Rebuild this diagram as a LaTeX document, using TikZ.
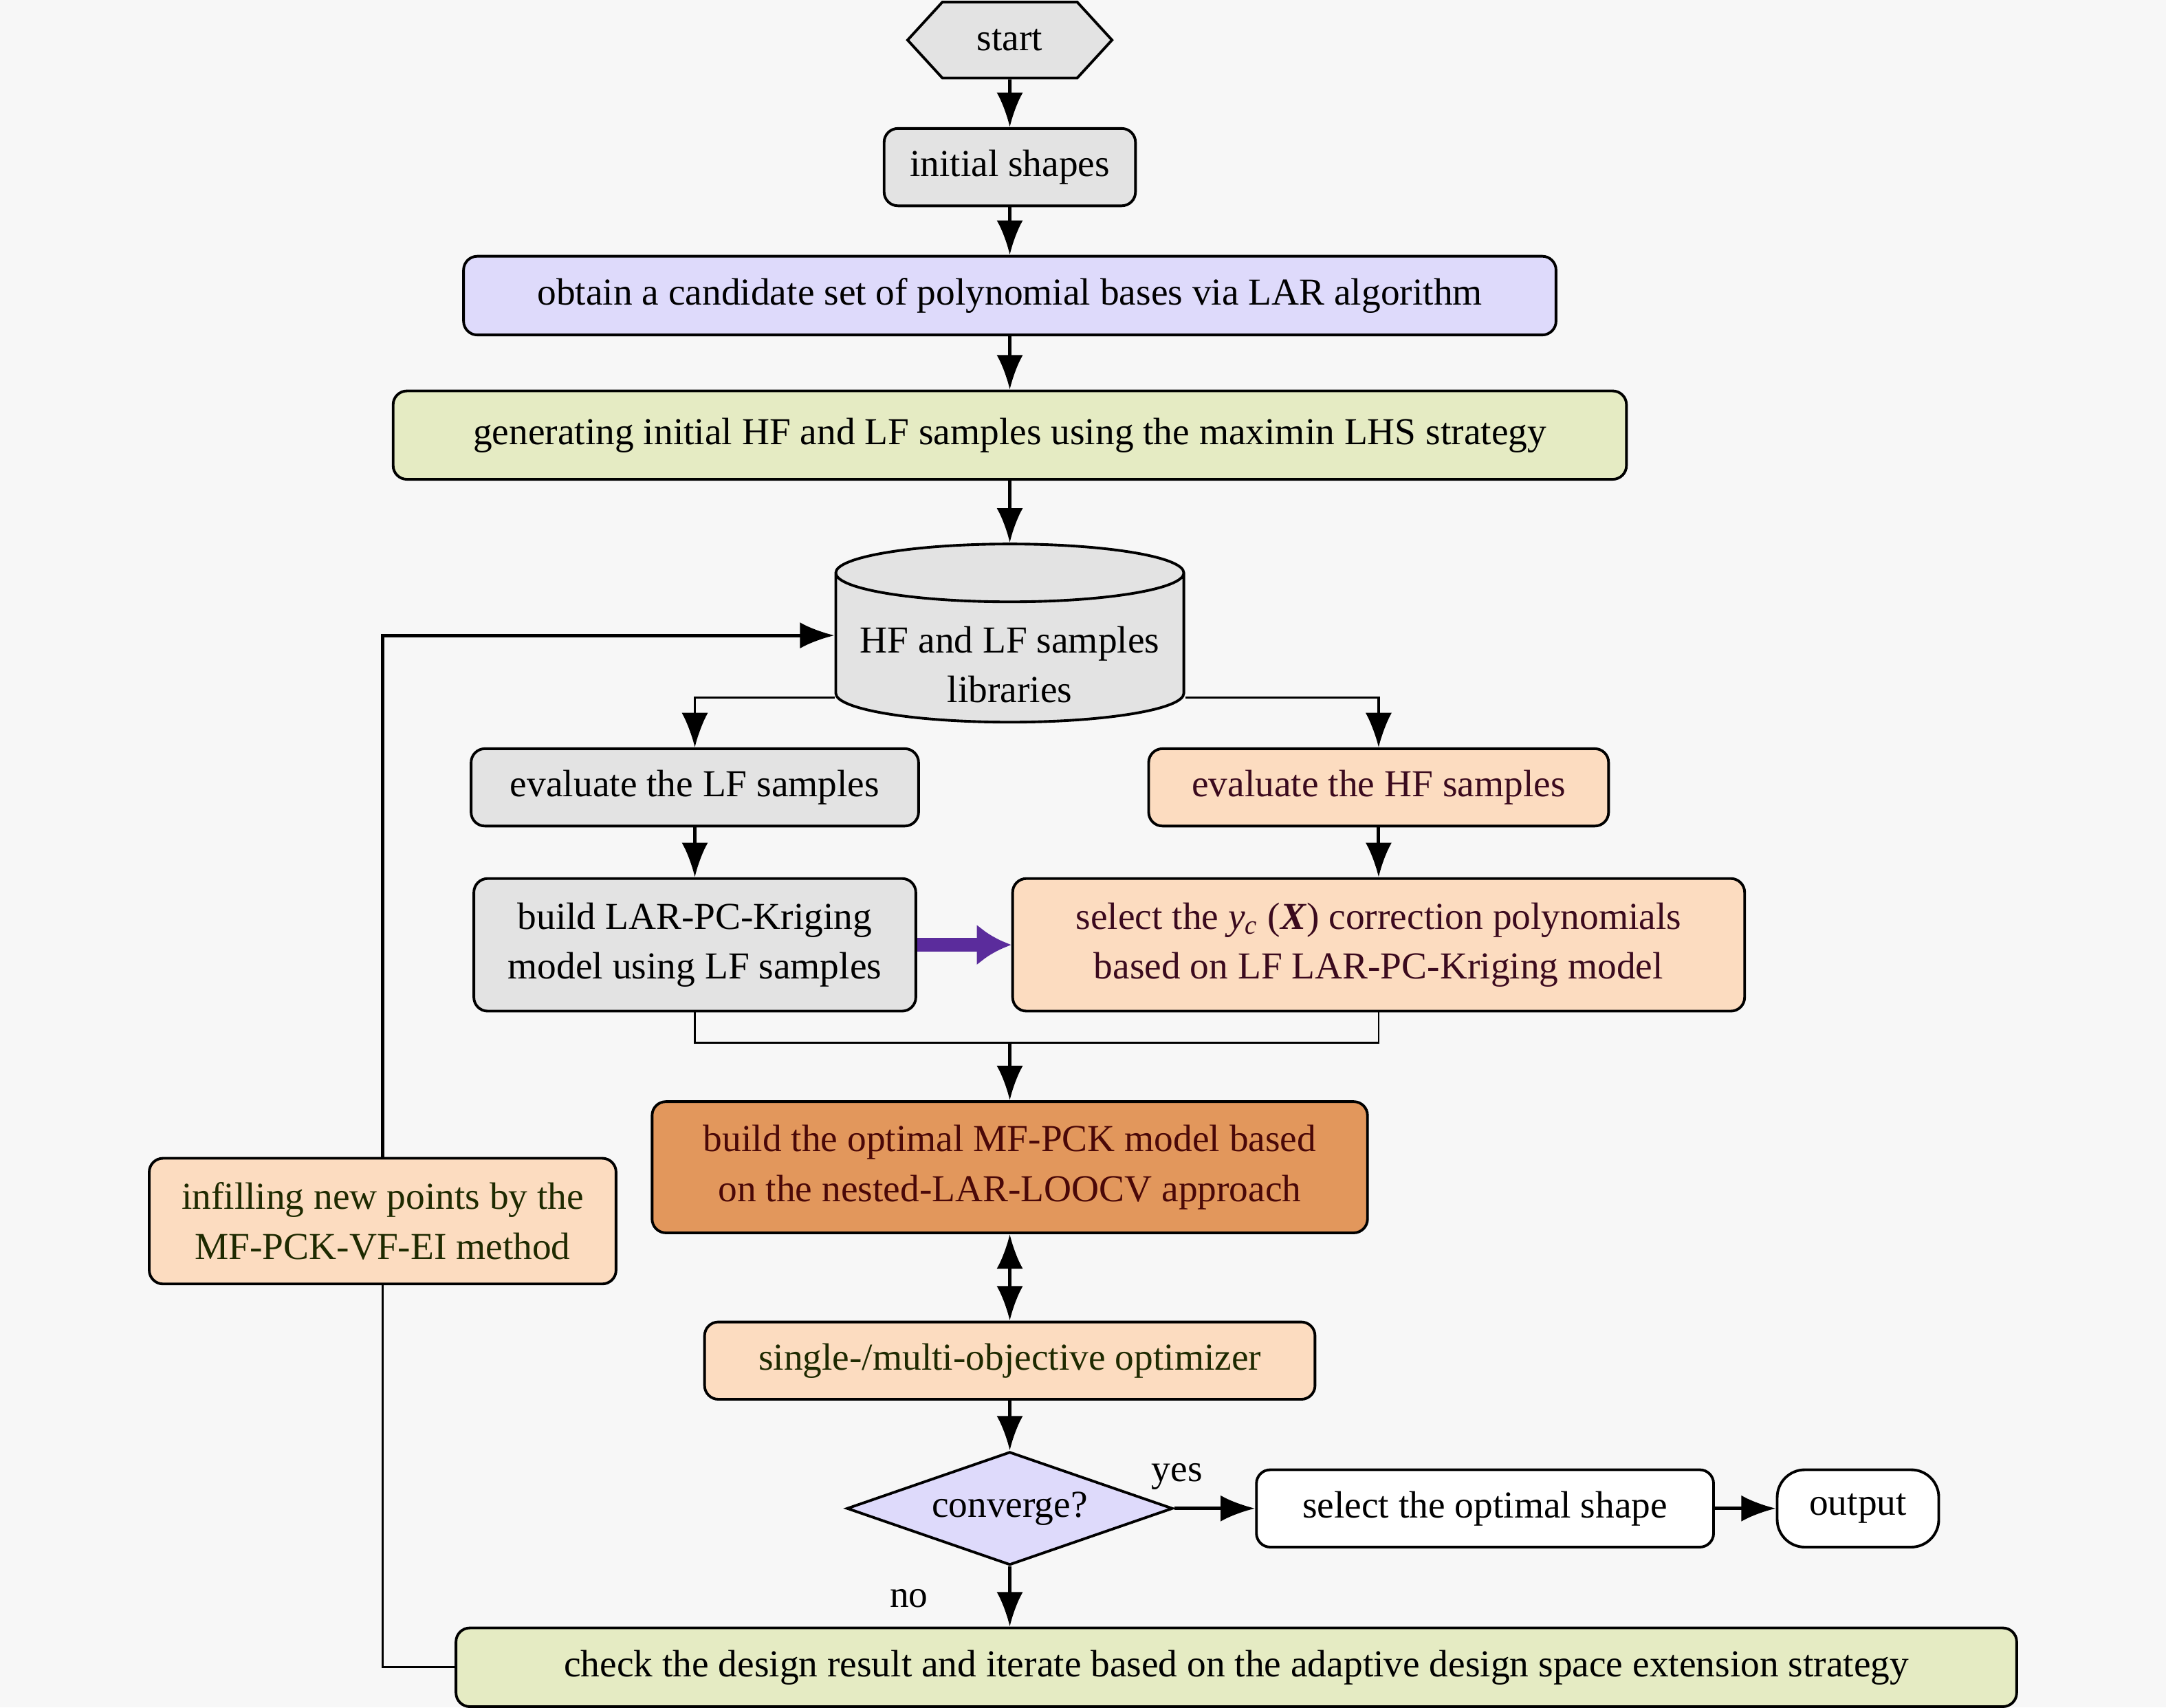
\documentclass[tikz,border=0pt]{standalone}
\usepackage{fontspec}
\setmainfont{Liberation Serif}
\usepackage{tikz}
\usetikzlibrary{arrows.meta, shapes, calc}

\definecolor{bgc}{HTML}{F7F7F7}
\definecolor{boxgray}{HTML}{E3E3E3}
\definecolor{lavfill}{HTML}{DEDAFB}
\definecolor{limefill}{HTML}{E5EBC3}
\definecolor{peachfill}{HTML}{FCDCC0}
\definecolor{ochrefill}{HTML}{E2975C}
\definecolor{arrpurple}{HTML}{5B2C9C}
\definecolor{txtmaroon}{HTML}{3B0A1E}
\definecolor{txtred}{HTML}{4A0808}
\definecolor{txtgreen}{HTML}{1E2A00}

\begin{document}
\begin{tikzpicture}[x=0.02cm, y=-0.02cm, >={Latex[length=5mm, width=3.8mm]},
	font=\fontsize{15.7}{20.5}\selectfont,
	box/.style={draw=black, line width=1.1pt, rounded corners=0.2cm, inner sep=0pt, align=center},
	link/.style={->, line width=1.4pt},
	thinlink/.style={line width=0.8pt}]
			\useasboundingbox (0,0) rectangle (1568,1236);
			\fill[bgc] (0,0) rectangle (1568,1236);

			\node[box, sharp corners, fill=boxgray, signal, signal to=west and east, signal pointer angle=95, minimum width=2.96cm, minimum height=1.1cm](S) at (731,29) {start};
			\node[box, fill=boxgray, minimum width=3.64cm, minimum height=1.12cm](I) at (731,121) {initial shapes};
			\node[box, fill=lavfill, minimum width=15.82cm, minimum height=1.14cm](L) at (731,214) {obtain a candidate set of polynomial bases via LAR algorithm};
			\node[box, fill=limefill, minimum width=17.86cm, minimum height=1.28cm](G) at (731,315) {generating initial HF and LF samples using the maximin LHS strategy};

			% database body, its label is set a little lower
			\node[draw=black, line width=1.1pt, fill=boxgray, cylinder, shape border rotate=90, aspect=0.19, minimum width=5.04cm, minimum height=2.58cm, inner sep=1pt](D) at (731,471) {\phantom{HF and LF samples}};
			\node[align=center](Dtxt) at (731,481) {HF and LF samples\\libraries};

			\node[box, fill=boxgray, minimum width=6.48cm, minimum height=1.12cm](E1) at (503,570) {evaluate the LF samples};
			\node[box, fill=peachfill, text=txtmaroon, minimum width=6.66cm, minimum height=1.12cm](E2) at (998,570) {evaluate the HF samples};

			\node[box, fill=boxgray, minimum width=6.4cm, minimum height=1.92cm](B1) at (503,684) {build LAR-PC-Kriging\\model using LF samples};
			\node[box, fill=peachfill, text=txtmaroon, minimum width=10.6cm, minimum height=1.92cm](P) at (998,684) {select the \textit{y}\textsubscript{\textit{c}} (\textbf{\textit{X}}) correction polynomials\\based on LF LAR-PC-Kriging model};

			\coordinate (J) at (731,754);
			\node[box, fill=ochrefill, text=txtred, minimum width=10.36cm, minimum height=1.9cm](M) at (731,845) {build the optimal MF-PCK model based\\on the nested-LAR-LOOCV approach};
			\node[box, fill=peachfill, text=txtgreen, minimum width=8.84cm, minimum height=1.12cm](O) at (731,985) {single-/multi-objective optimizer};

			\node[box, sharp corners, fill=lavfill, diamond, aspect=2.9, minimum width=4.72cm, minimum height=1.64cm](C) at (731,1092) {converge?};
			\node[box, fill=white, minimum width=6.62cm, minimum height=1.12cm](A) at (1075,1092) {select the optimal shape};
			\node[box, fill=white, rounded corners=0.4cm, minimum width=2.34cm, minimum height=1.12cm](T) at (1345,1092) {output};
			\node(yes) at (852,1069) {yes};
			\node(no) at (658,1157) {no};

			\node[box, fill=limefill, minimum width=22.6cm, minimum height=1.14cm](K) at (895,1207) {check the design result and iterate based on the adaptive design space extension strategy};
			\node[box, fill=peachfill, text=txtgreen, minimum width=6.76cm, minimum height=1.82cm](N) at (277,884) {infilling new points by the\\MF-PCK-VF-EI method};

			\draw[link](S) edge (I);
			\draw[link](I) edge (L);
			\draw[link](L) edge (G);
			\draw[link](G) edge (D);

			\draw[->, line width=1pt]([yshift=-0.68cm]D.west) -| (E1);
			\draw[->, line width=1pt]([yshift=-0.68cm]D.east) -| (E2);
			\draw[link](E1) edge (B1);
			\draw[link](E2) edge (P);
			\draw[->, line width=5.5pt, draw=arrpurple, fill=arrpurple, >={Latex[length=5mm, width=6mm]}](B1) -- (P);

			\draw[thinlink](B1.south) -- ++(0,22) -| (P.south);
			\draw[link](J) -- (M);
			\draw[link, <->](M) edge (O);
			\draw[link](O) edge (C);
			\draw[link](C) -- (A);
			\draw[link](A) -- (T);
			\draw[link](C) -- (C |- K.north);

			\draw[thinlink](K) -| (N);
			\draw[link](N) |- ([yshift=0.22cm]D.west);
		\end{tikzpicture}
\end{document}
